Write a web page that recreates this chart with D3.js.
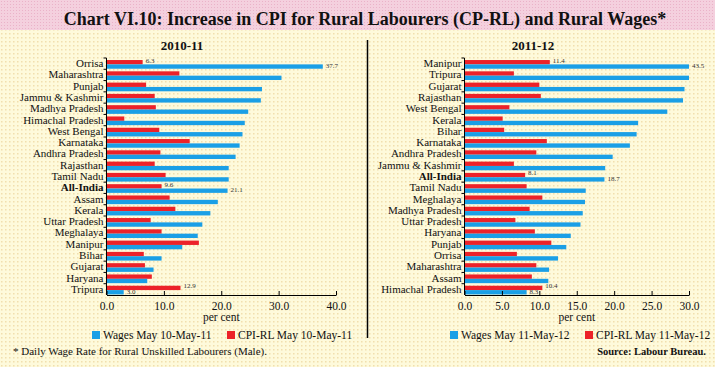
<!DOCTYPE html>
<html>
<head>
<meta charset="utf-8">
<script src="https://cdn.jsdelivr.net/npm/d3@7"></script>
<style>
  body { margin: 0; background: #fff; }
  svg text { font-family: "Liberation Serif", "Times New Roman", serif; fill: #111; }
</style>
</head>
<body>
<svg id="chart" width="715" height="367"></svg>
<script>
// 2010-11 panel
const states1 = ["Orrisa", "Maharashtra", "Punjab", "Jammu & Kashmir", "Madhya Pradesh", "Himachal Pradesh",
  "West Bengal", "Karnataka", "Andhra Pradesh", "Rajasthan", "Tamil Nadu", "All-India", "Assam", "Kerala",
  "Uttar Pradesh", "Meghalaya", "Manipur", "Bihar", "Gujarat", "Haryana", "Tripura"];
const wages1 = [37.7, 30.5, 27.1, 26.9, 24.7, 24.1, 23.7, 23.2, 22.5, 21.3, 21.3, 21.1, 19.4, 18.1,
  16.7, 15.9, 13.2, 9.6, 8.2, 7.1, 3.0];
const cpi1 = [6.3, 12.7, 6.9, 8.4, 8.6, 3.1, 9.2, 14.5, 9.4, 8.4, 10.3, 9.6, 11.0, 12.0,
  7.7, 9.6, 16.1, 6.5, 6.7, 7.9, 12.9];
const ticks1 = [0, 10, 20, 30, 40];

// 2011-12 panel
const states2 = ["Manipur", "Tripura", "Gujarat", "Rajasthan", "West Bengal", "Kerala", "Bihar", "Karnataka",
  "Andhra Pradesh", "Jammu & Kashmir", "All-India", "Tamil Nadu", "Meghalaya", "Madhya Pradesh",
  "Uttar Pradesh", "Haryana", "Punjab", "Orrisa", "Maharashtra", "Assam", "Himachal Pradesh"];
const wages2 = [43.5, 31.0, 29.4, 29.2, 27.1, 23.2, 23.0, 22.1, 19.8, 18.8, 18.7, 16.2, 16.1, 15.8,
  15.5, 14.2, 13.6, 12.5, 11.3, 11.2, 8.3];
const cpi2 = [11.4, 6.6, 10.0, 10.2, 6.0, 5.1, 5.3, 11.0, 9.6, 6.6, 8.1, 8.3, 10.4, 8.7,
  6.8, 9.4, 11.6, 7.0, 9.6, 9.0, 10.4];
const ticks2 = [0, 5, 10, 15, 20, 25, 30];

// которые значения подписаны на графике
const labeled1 = ["Orrisa", "All-India", "Tripura"];
const labeled2 = ["Manipur", "All-India", "Himachal Pradesh"];

const blue = "#1a9fe6";
const red = "#ec2229";

const svg = d3.select("#chart");
const defs = svg.append("defs");

const bgPat = defs.append("pattern").attr("id", "bg").attr("width", 4).attr("height", 4)
  .attr("patternUnits", "userSpaceOnUse");
bgPat.append("rect").attr("width", 4).attr("height", 4).attr("fill", "#fefadb");
bgPat.append("rect").attr("x", 1).attr("y", 1).attr("width", 1.5).attr("height", 1.5).attr("fill", "#f1dfae");

const pinkPat = defs.append("pattern").attr("id", "pink").attr("width", 3).attr("height", 3)
  .attr("patternUnits", "userSpaceOnUse");
pinkPat.append("rect").attr("width", 3).attr("height", 3).attr("fill", "#f4d0de");
pinkPat.append("rect").attr("x", 1).attr("y", 1).attr("width", 1).attr("height", 1).attr("fill", "#eab2c8");

svg.append("rect").attr("width", 715).attr("height", 367).attr("fill", "url(#bg)");
svg.append("rect").attr("width", 715).attr("height", 30).attr("fill", "url(#pink)");

svg.append("text")
  .attr("x", 365).attr("y", 25)
  .attr("text-anchor", "middle")
  .attr("font-size", 18).attr("font-weight", "bold")
  .text("Chart VI.10: Increase in CPI for Rural Labourers (CP-RL) and Rural Wages*");

// разделитель панелей
svg.append("line")
  .attr("x1", 367.5).attr("x2", 367.5).attr("y1", 40).attr("y2", 338)
  .attr("stroke", "#000").attr("stroke-width", 1.5);

function drawPanel(p) {
  const x = d3.scaleLinear().domain(p.domain).range([p.x0, p.x1]).clamp(true);
  const y = d3.scaleBand().domain(p.states).range([58, 295]);
  const bw = y.bandwidth();
  const barH = bw * 0.385;
  const off = bw * 0.18;

  const g = svg.append("g");

  g.append("text")
    .attr("x", p.titleX).attr("y", 50)
    .attr("text-anchor", "middle")
    .attr("font-size", 13).attr("font-weight", "bold")
    .text(p.title);

  const rows = p.states.map((s, i) => ({state: s, wage: p.wages[i], cpi: p.cpi[i]}));

  g.selectAll(".cpi").data(rows).enter().append("rect")
    .attr("x", x(0)).attr("y", d => y(d.state) + off)
    .attr("width", d => x(d.cpi) - x(0)).attr("height", barH)
    .attr("fill", red);

  g.selectAll(".wage").data(rows).enter().append("rect")
    .attr("x", x(0)).attr("y", d => y(d.state) + off + barH)
    .attr("width", d => x(d.wage) - x(0)).attr("height", barH)
    .attr("fill", blue);

  const lab = rows.filter(d => p.labeled.includes(d.state));
  g.selectAll(".lc").data(lab).enter().append("text")
    .attr("x", d => x(d.cpi) + 3).attr("y", d => y(d.state) + off + barH * 0.6)
    .attr("font-size", 7).style("fill", "#333")
    .text(d => d.cpi.toFixed(1));
  g.selectAll(".lw").data(lab).enter().append("text")
    .attr("x", d => x(d.wage) + 3).attr("y", d => y(d.state) + off + barH * 1.9)
    .attr("font-size", 7).style("fill", "#333")
    .text(d => d.wage.toFixed(1));

  // ось категорий
  const yAxis = g.append("g")
    .attr("transform", `translate(${p.x0},0)`)
    .call(d3.axisLeft(y).tickSize(0).tickPadding(3));
  yAxis.select(".domain").remove();
  yAxis.selectAll("text")
    .attr("font-size", 11)
    .attr("font-family", "Liberation Serif, serif")
    .attr("font-weight", d => d === "All-India" ? "bold" : null)
    .style("fill", "#111");
  g.append("line").attr("x1", p.x0).attr("x2", p.x0).attr("y1", 58).attr("y2", 295)
    .attr("stroke", "#000");
  g.selectAll(".yt").data(p.states).enter().append("line")
    .attr("x1", p.x0 - 3).attr("x2", p.x0)
    .attr("y1", d => y(d)).attr("y2", d => y(d))
    .attr("stroke", "#000");

  const xAxis = g.append("g")
    .attr("transform", "translate(0,295)")
    .call(d3.axisBottom(x).tickValues(p.ticks).tickFormat(d3.format(".1f"))
      .tickSizeInner(-4).tickSizeOuter(0).tickPadding(7));
  xAxis.select(".domain").attr("stroke", "#000");
  xAxis.selectAll("text")
    .attr("font-size", 11.5)
    .attr("font-family", "Liberation Serif, serif")
    .style("fill", "#111");

  g.append("text")
    .attr("x", (p.x0 + p.x1) / 2).attr("y", 321)
    .attr("text-anchor", "middle").attr("font-size", 11.5)
    .text("per cent");

  // легенда
  p.legend.forEach(l => {
    g.append("rect").attr("x", l.x).attr("y", 331).attr("width", 8).attr("height", 8)
      .attr("fill", l.color);
    g.append("text").attr("x", l.x + 11).attr("y", 339)
      .attr("font-size", 11.5).text(l.text);
  });
}

drawPanel({
  title: "2010-11", titleX: 182,
  states: states1, wages: wages1, cpi: cpi1, ticks: ticks1, labeled: labeled1,
  domain: [0, 40], x0: 106.5, x1: 336,
  legend: [{x: 92, color: blue, text: "Wages May 10-May-11"}, {x: 227, color: red, text: "CPI-RL May 10-May-11"}]
});

drawPanel({
  title: "2011-12", titleX: 533,
  states: states2, wages: wages2, cpi: cpi2, ticks: ticks2, labeled: labeled2,
  domain: [0, 30], x0: 464.5, x1: 689,
  legend: [{x: 450, color: blue, text: "Wages May 11-May-12"}, {x: 585, color: red, text: "CPI-RL May 11-May-12"}]
});

svg.append("text").attr("x", 13).attr("y", 355)
  .attr("font-size", 11)
  .text("* Daily Wage Rate for Rural Unskilled Labourers (Male).");

svg.append("text").attr("x", 706).attr("y", 355)
  .attr("text-anchor", "end").attr("font-size", 10.5).attr("font-weight", "bold")
  .text("Source: Labour Bureau.");
</script>
</body>
</html>
